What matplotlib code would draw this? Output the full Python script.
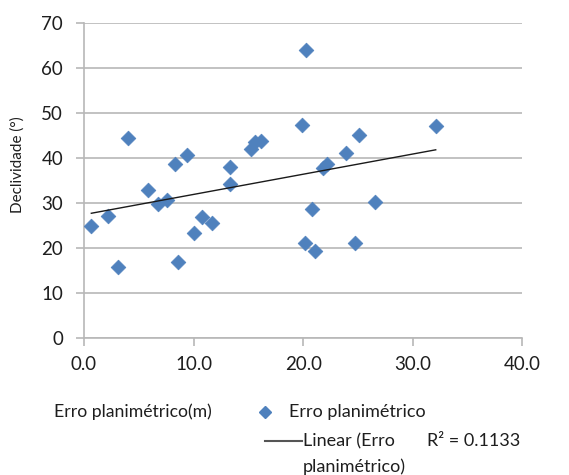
import numpy as np
import matplotlib
matplotlib.use("Agg")
import matplotlib.pyplot as plt
from matplotlib.lines import Line2D

# Data
erro_planimetrico = [0.67, 2.16, 3.1, 4.02, 5.87, 6.76, 7.6, 8.34, 8.55, 9.38,
                     10.05, 10.78, 11.7, 13.3, 13.3, 15.2, 15.6, 16.2, 19.9, 20.3,
                     20.2, 20.85, 21.1, 21.8, 22.2, 23.9, 24.7, 25.1, 26.6, 32.1]
declividade = [25.0, 27.2, 15.8, 44.6, 33.0, 29.8, 30.7, 38.7, 16.9, 40.7,
               23.5, 27.0, 25.7, 38.1, 34.2, 42.0, 43.7, 43.8, 47.4, 64.1,
               21.1, 28.7, 19.5, 37.8, 38.7, 41.2, 21.1, 45.2, 30.4, 47.2]
x_ticks = [0, 10, 20, 30, 40]
y_ticks = [0, 10, 20, 30, 40, 50, 60, 70]
r2_text = "R² = 0.1133"

plt.rcParams['font.family'] = ['Lato', 'DejaVu Sans']

blue = '#4F81BD'
grid_c = '#B7B7B7'
text_c = '#1e1e1e'

fig = plt.figure(figsize=(5.69, 4.75), dpi=100)
ax = fig.add_axes([0.1476, 0.2878, 0.7703, 0.663])

x = np.array(erro_planimetrico)
y = np.array(declividade)
ax.scatter(x, y, marker='D', s=7.5**2, color=blue, edgecolors=blue, linewidths=0.5, zorder=3)

slope, intercept = np.polyfit(x, y, 1)
xl = np.array([x.min(), x.max()])
ax.plot(xl, slope * xl + intercept, color='#1a1a1a', lw=1.0, zorder=4)

ax.set_xlim(0, 40)
ax.set_ylim(0, 70)
ax.set_xticks(x_ticks)
ax.set_xticklabels([f"{v:.1f}" for v in x_ticks])
ax.set_yticks(y_ticks)
ax.set_yticklabels([str(v) for v in y_ticks])
ax.yaxis.grid(True, color=grid_c, lw=1.2)
ax.set_axisbelow(True)
for s in ['top', 'right']:
    ax.spines[s].set_visible(False)
for s in ['left', 'bottom']:
    ax.spines[s].set_color(grid_c)
    ax.spines[s].set_linewidth(1.2)
ax.tick_params(axis='both', colors=grid_c, labelcolor=text_c, labelsize=13.5,
               length=6, width=1.2, direction='out')
ax.tick_params(axis='y', pad=9)
ax.tick_params(axis='x', pad=7)

ax.set_ylabel("Declividade (°)", fontsize=11, color=text_c)
ax.yaxis.set_label_coords(-0.136, 0.55)

fs = 13
fig.text(54 / 569, 1 - 412 / 475, "Erro planimétrico(m)", fontsize=12.7,
         color=text_c, va='center', ha='left')

# legend drawn manually
fig.lines.append(Line2D([265 / 569], [1 - 412 / 475], marker='D', ms=6.5,
                        color=blue, transform=fig.transFigure, ls='none'))
fig.text(289 / 569, 1 - 412 / 475, "Erro planimétrico", fontsize=fs,
         color=text_c, va='center', ha='left')
fig.lines.append(Line2D([265 / 569, 302 / 569], [1 - 441 / 475, 1 - 441 / 475],
                        color='#555555', lw=1.5, transform=fig.transFigure))
fig.text(303 / 569, 1 - 441 / 475, "Linear (Erro", fontsize=fs,
         color=text_c, va='center', ha='left')
fig.text(303 / 569, 1 - 467 / 475, "planimétrico)", fontsize=fs,
         color=text_c, va='center', ha='left')
fig.text(427 / 569, 1 - 441 / 475, r2_text, fontsize=fs,
         color=text_c, va='center', ha='left')

fig.savefig("out.png", dpi=100, facecolor='white')
